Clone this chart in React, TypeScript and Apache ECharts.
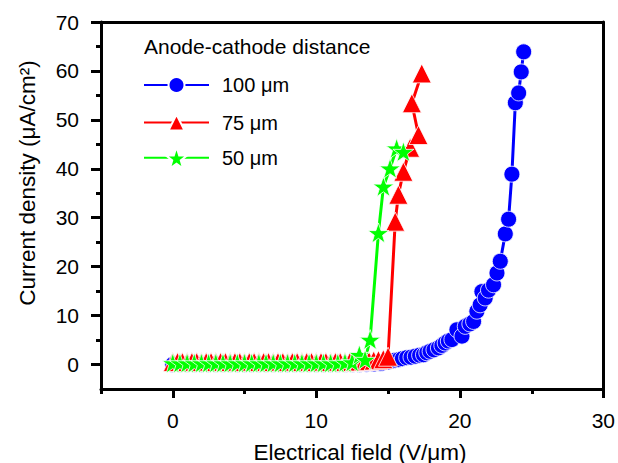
import React, { useEffect, useRef } from "react";
import * as echarts from "echarts";

// ---- data ----
const seriesNames = ["100 μm", "75 μm", "50 μm"];

const blueE = [
  0, 0.5, 1, 1.5, 2, 2.5, 3, 3.5, 4, 4.5, 5, 5.5, 6, 6.5, 7, 7.5, 8, 8.5, 9, 9.5,
  10, 10.5, 11, 11.5, 12, 12.5, 13, 13.5, 14, 14.5, 15.0, 15.25, 15.5, 15.75, 16.0,
  16.3, 16.6, 16.9, 17.2, 17.47, 17.7, 17.93, 18.2, 18.51, 18.75, 18.98, 19.2, 19.45,
  19.8, 20.15, 20.38, 20.7, 20.96, 21.19, 21.42, 21.54, 21.77, 22.0, 22.35, 22.59,
  22.82, 23.17, 23.4, 23.63, 23.87, 24.1, 24.28, 24.45,
];
const blueJ = [
  0, 0, 0, 0, 0, 0, 0, 0, 0, 0, 0, 0, 0, 0, 0, 0, 0, 0, 0, 0,
  0, 0, 0, 0, 0, 0, 0, 0.05, 0.1, 0.2, 0.5, 0.7, 0.9, 1.0, 1.2,
  1.4, 1.5, 1.7, 1.9, 2.0, 2.4, 2.7, 3.0, 3.4, 3.9, 4.4, 4.8, 5.1,
  7.1, 5.8, 7.8, 8.3, 8.8, 10.9, 12.2, 14.9, 13.6, 15.2, 16.3, 18.7,
  21.1, 26.7, 29.7, 38.9, 53.5, 55.5, 59.8, 63.9,
];

const redE = [
  0, 0.33, 0.67, 1.0, 1.33, 1.67, 2.0, 2.33, 2.67, 3.0, 3.33, 3.67, 4.0, 4.33, 4.67,
  5.0, 5.33, 5.67, 6.0, 6.33, 6.67, 7.0, 7.33, 7.67, 8.0, 8.33, 8.67, 9.0, 9.33, 9.67,
  10.0, 10.33, 10.67, 11.0, 11.33, 11.67, 12.0, 12.33, 12.67, 13.0, 13.33, 13.67, 14.0,
  14.33, 14.67, 15.0, 15.5, 15.72, 16.07, 16.54, 17.12, 16.66, 17.35,
];
const redJ = [
  0.5, 0.5, 0.5, 0.5, 0.5, 0.5, 0.5, 0.5, 0.5, 0.5, 0.5, 0.5, 0.5, 0.5, 0.5,
  0.5, 0.5, 0.5, 0.5, 0.5, 0.5, 0.5, 0.5, 0.5, 0.5, 0.5, 0.5, 0.5, 0.5, 0.5,
  0.5, 0.5, 0.5, 0.5, 0.5, 0.5, 0.5, 0.5, 0.5, 0.6, 0.6, 0.7, 0.8,
  0.9, 1.1, 1.6, 29.2, 34.7, 39.4, 44.3, 46.9, 53.4, 59.5,
];

const greenE = [
  0, 0.5, 1, 1.5, 2, 2.5, 3, 3.5, 4, 4.5, 5, 5.5, 6, 6.5, 7, 7.5, 8, 8.5, 9, 9.5,
  10, 10.5, 11, 11.5, 12, 12.5, 13.0, 13.4, 13.75, 14.33, 14.68, 15.14, 15.6, 16.07,
];
const greenJ = [
  0.3, 0.3, 0.3, 0.3, 0.3, 0.3, 0.3, 0.3, 0.3, 0.3, 0.3, 0.3, 0.3, 0.3, 0.3, 0.3, 0.3, 0.3, 0.3, 0.3,
  0.3, 0.3, 0.3, 0.3, 0.4, 0.5, 2.0, 1.0, 5.1, 26.9, 36.4, 40.1, 44.2, 43.5,
];

const xMajorTicks = [0, 10, 20, 30];
const xMinorTicks = [-5, 5, 15, 25];
const yMajorTicks = [0, 10, 20, 30, 40, 50, 60, 70];
const yMinorTicks = [5, 15, 25, 35, 45, 55, 65];

const legendTitle = "Anode-cathode distance";
const xTitle = "Electrical field (V/μm)";
const yTitle = "Current density (μA/cm²)";

const STAR =
  "path://M50,0 L61.8,35.1 L97.6,34.5 L68.8,56.2 L79.4,90.5 L50,70 L20.6,90.5 L31.2,56.2 L2.4,34.5 L38.2,35.1 Z";

const FONT = "'Liberation Sans', Arial, Helvetica, sans-serif";

function zip(a: number[], b: number[]) {
  return a.map((v, i) => [v, b[i]]);
}

export default function App() {
  const ref = useRef<HTMLDivElement>(null);

  useEffect(() => {
    if (!ref.current) return;
    const chart = echarts.init(ref.current, undefined, { renderer: "svg" });

    const gridBox = { left: 101, right: 14, top: 22, bottom: 74 };

    const mkSeries = (
      name: string,
      color: string,
      symbol: string,
      size: number,
      data: number[][]
    ) => ({
      name,
      type: "line",
      xAxisIndex: 0,
      yAxisIndex: 0,
      data,
      symbol,
      symbolSize: size,
      symbolKeepAspect: true,
      showSymbol: true,
      showAllSymbol: true,
      lineStyle: { color, width: 3 },
      itemStyle: { color, borderColor: "#fff", borderWidth: 0.8 },
      emphasis: { disabled: true },
    });

    const tickStyle = { color: "#000", width: 3 };
    const frameLine = { show: true, onZero: false, lineStyle: { color: "#000", width: 3 } };
    const legendText = {
      fontSize: 20,
      color: "#000",
      fontFamily: FONT,
      lineHeight: 20,
      padding: [0, 0, 0, 8],
    };

    chart.setOption({
      animation: false,
      backgroundColor: "#fff",
      textStyle: { fontFamily: FONT },
      grid: [
        { ...gridBox, show: false },
        { ...gridBox, show: false },
      ],
      legend: [
        {
          orient: "vertical",
          left: 143,
          top: 75,
          padding: 0,
          itemWidth: 65,
          itemHeight: 20,
          itemGap: 17.5,
          data: [seriesNames[0], seriesNames[1]],
          textStyle: legendText,
        },
        {
          orient: "vertical",
          left: 143,
          top: 146,
          padding: 0,
          itemWidth: 65,
          itemHeight: 27,
          data: [seriesNames[2]],
          textStyle: legendText,
        },
      ],
      xAxis: [
        {
          type: "value",
          gridIndex: 0,
          min: -5,
          max: 30,
          interval: 5,
          position: "bottom",
          axisLine: frameLine,
          axisTick: { show: true, customValues: xMajorTicks, length: 9, lineStyle: tickStyle },
          axisLabel: {
            customValues: xMajorTicks,
            fontSize: 21,
            color: "#000",
            margin: 21,
            fontFamily: FONT,
          },
          splitLine: { show: false },
        },
        {
          type: "value",
          gridIndex: 1,
          min: -5,
          max: 30,
          interval: 5,
          position: "bottom",
          axisLine: { show: false, onZero: false },
          axisTick: { show: true, customValues: xMinorTicks, length: 5, lineStyle: tickStyle },
          axisLabel: { show: false },
          splitLine: { show: false },
        },
        {
          type: "value",
          gridIndex: 0,
          min: -5,
          max: 30,
          interval: 5,
          position: "top",
          axisLine: frameLine,
          axisTick: { show: false },
          axisLabel: { show: false },
          splitLine: { show: false },
        },
      ],
      yAxis: [
        {
          type: "value",
          gridIndex: 0,
          min: -5,
          max: 70,
          interval: 5,
          position: "left",
          axisLine: frameLine,
          axisTick: { show: true, customValues: yMajorTicks, length: 10, lineStyle: tickStyle },
          axisLabel: {
            customValues: yMajorTicks,
            fontSize: 21,
            color: "#000",
            margin: 22,
            fontFamily: FONT,
          },
          splitLine: { show: false },
        },
        {
          type: "value",
          gridIndex: 1,
          min: -5,
          max: 70,
          interval: 5,
          position: "left",
          axisLine: { show: false, onZero: false },
          axisTick: { show: true, customValues: yMinorTicks, length: 5, lineStyle: tickStyle },
          axisLabel: { show: false },
          splitLine: { show: false },
        },
        {
          type: "value",
          gridIndex: 0,
          min: -5,
          max: 70,
          interval: 5,
          position: "right",
          axisLine: frameLine,
          axisTick: { show: false },
          axisLabel: { show: false },
          splitLine: { show: false },
        },
      ],
      graphic: [
        {
          type: "text",
          left: 144,
          top: 36,
          style: { text: legendTitle, fontSize: 21, fill: "#000", fontFamily: FONT },
        },
        {
          type: "text",
          x: 360,
          y: 452,
          style: {
            text: xTitle,
            fontSize: 22.5,
            fill: "#000",
            fontFamily: FONT,
            align: "center",
            verticalAlign: "middle",
          },
        },
        {
          type: "text",
          x: 27,
          y: 183,
          rotation: Math.PI / 2,
          style: {
            text: yTitle,
            fontSize: 22.5,
            fill: "#000",
            fontFamily: FONT,
            align: "center",
            verticalAlign: "middle",
          },
        },
      ],
      series: [
        mkSeries(seriesNames[0], "#0000ff", "circle", 16, zip(blueE, blueJ)),
        mkSeries(seriesNames[1], "#ff0000", "triangle", 19, zip(redE, redJ)),
        mkSeries(seriesNames[2], "#00ff00", STAR, 21, zip(greenE, greenJ)),
      ],
    });

    return () => chart.dispose();
  }, []);

  return (
    <div
      ref={ref}
      style={{ position: "absolute", left: 0, top: 0, width: 618, height: 463 }}
    />
  );
}
